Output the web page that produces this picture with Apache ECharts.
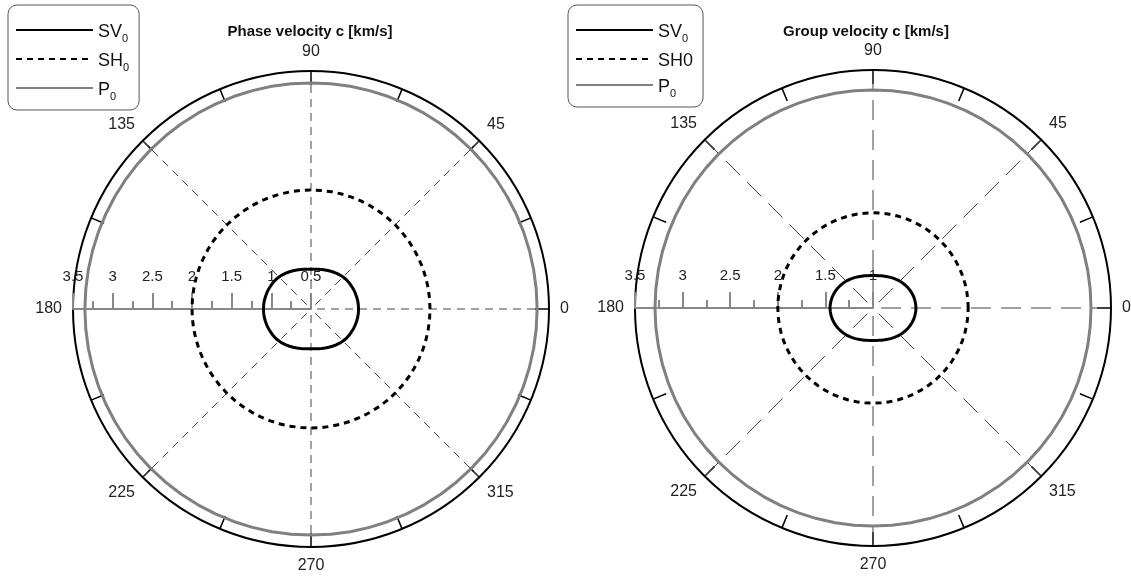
<!DOCTYPE html>
<html>
<head>
<meta charset="utf-8">
<script src="https://cdn.jsdelivr.net/npm/echarts@6/dist/echarts.min.js"></script>
<style>
  html, body { margin: 0; padding: 0; background: #fff; }
  #polarChart { width: 1131px; height: 579px; }
</style>
</head>
<body>
<div id="polarChart"></div>
<script>
// angles in degrees, 0 = right, counter-clockwise
const angles = [0, 5, 10, 15, 20, 25, 30, 35, 40, 45, 50, 55, 60, 65, 70, 75, 80, 85, 90,
  95, 100, 105, 110, 115, 120, 125, 130, 135, 140, 145, 150, 155, 160, 165, 170, 175, 180,
  185, 190, 195, 200, 205, 210, 215, 220, 225, 230, 235, 240, 245, 250, 255, 260, 265, 270,
  275, 280, 285, 290, 295, 300, 305, 310, 315, 320, 325, 330, 335, 340, 345, 350, 355, 360];

// phase velocity [km/s]
const phaseSV0 = [1.099, 1.099, 1.098, 1.095, 1.093, 1.090, 1.086, 1.083, 1.078, 1.071, 1.062, 1.052, 1.042, 1.032, 1.023, 1.016, 1.009, 1.004, 1.000,
  1.004, 1.009, 1.016, 1.023, 1.032, 1.042, 1.052, 1.062, 1.071, 1.078, 1.083, 1.086, 1.090, 1.093, 1.095, 1.098, 1.099, 1.099,
  1.099, 1.098, 1.095, 1.093, 1.090, 1.086, 1.083, 1.078, 1.071, 1.062, 1.052, 1.042, 1.032, 1.023, 1.016, 1.009, 1.004, 1.000,
  1.004, 1.009, 1.016, 1.023, 1.032, 1.042, 1.052, 1.062, 1.071, 1.078, 1.083, 1.086, 1.090, 1.093, 1.095, 1.098, 1.099, 1.099];
const phaseSH0 = [2.0, 2.0, 2.0, 2.0, 2.0, 2.0, 2.0, 2.0, 2.0, 2.0, 2.0, 2.0, 2.0, 2.0, 2.0, 2.0, 2.0, 2.0, 2.0,
  2.0, 2.0, 2.0, 2.0, 2.0, 2.0, 2.0, 2.0, 2.0, 2.0, 2.0, 2.0, 2.0, 2.0, 2.0, 2.0, 2.0, 2.0,
  2.0, 2.0, 2.0, 2.0, 2.0, 2.0, 2.0, 2.0, 2.0, 2.0, 2.0, 2.0, 2.0, 2.0, 2.0, 2.0, 2.0, 2.0,
  2.0, 2.0, 2.0, 2.0, 2.0, 2.0, 2.0, 2.0, 2.0, 2.0, 2.0, 2.0, 2.0, 2.0, 2.0, 2.0, 2.0, 2.0];
const phaseP0 = [3.35, 3.35, 3.35, 3.35, 3.35, 3.35, 3.35, 3.35, 3.35, 3.35, 3.35, 3.35, 3.35, 3.35, 3.35, 3.35, 3.35, 3.35, 3.35,
  3.35, 3.35, 3.35, 3.35, 3.35, 3.35, 3.35, 3.35, 3.35, 3.35, 3.35, 3.35, 3.35, 3.35, 3.35, 3.35, 3.35, 3.35,
  3.35, 3.35, 3.35, 3.35, 3.35, 3.35, 3.35, 3.35, 3.35, 3.35, 3.35, 3.35, 3.35, 3.35, 3.35, 3.35, 3.35, 3.35,
  3.35, 3.35, 3.35, 3.35, 3.35, 3.35, 3.35, 3.35, 3.35, 3.35, 3.35, 3.35, 3.35, 3.35, 3.35, 3.35, 3.35, 3.35];

// group velocity [km/s]
const groupSV0 = [1.452, 1.450, 1.447, 1.444, 1.438, 1.432, 1.424, 1.416, 1.407, 1.399, 1.389, 1.380, 1.371, 1.363, 1.356, 1.350, 1.345, 1.342, 1.341,
  1.342, 1.345, 1.350, 1.356, 1.363, 1.371, 1.380, 1.389, 1.399, 1.407, 1.416, 1.424, 1.432, 1.438, 1.444, 1.447, 1.450, 1.452,
  1.450, 1.447, 1.444, 1.438, 1.432, 1.424, 1.416, 1.407, 1.399, 1.389, 1.380, 1.371, 1.363, 1.356, 1.350, 1.345, 1.342, 1.341,
  1.342, 1.345, 1.350, 1.356, 1.363, 1.371, 1.380, 1.389, 1.399, 1.407, 1.416, 1.424, 1.432, 1.438, 1.444, 1.447, 1.450, 1.452];
const groupSH0 = [2.0, 2.0, 2.0, 2.0, 2.0, 2.0, 2.0, 2.0, 2.0, 2.0, 2.0, 2.0, 2.0, 2.0, 2.0, 2.0, 2.0, 2.0, 2.0,
  2.0, 2.0, 2.0, 2.0, 2.0, 2.0, 2.0, 2.0, 2.0, 2.0, 2.0, 2.0, 2.0, 2.0, 2.0, 2.0, 2.0, 2.0,
  2.0, 2.0, 2.0, 2.0, 2.0, 2.0, 2.0, 2.0, 2.0, 2.0, 2.0, 2.0, 2.0, 2.0, 2.0, 2.0, 2.0, 2.0,
  2.0, 2.0, 2.0, 2.0, 2.0, 2.0, 2.0, 2.0, 2.0, 2.0, 2.0, 2.0, 2.0, 2.0, 2.0, 2.0, 2.0, 2.0];
const groupP0 = [3.29, 3.29, 3.29, 3.29, 3.29, 3.29, 3.29, 3.29, 3.29, 3.29, 3.29, 3.29, 3.29, 3.29, 3.29, 3.29, 3.29, 3.29, 3.29,
  3.29, 3.29, 3.29, 3.29, 3.29, 3.29, 3.29, 3.29, 3.29, 3.29, 3.29, 3.29, 3.29, 3.29, 3.29, 3.29, 3.29, 3.29,
  3.29, 3.29, 3.29, 3.29, 3.29, 3.29, 3.29, 3.29, 3.29, 3.29, 3.29, 3.29, 3.29, 3.29, 3.29, 3.29, 3.29, 3.29,
  3.29, 3.29, 3.29, 3.29, 3.29, 3.29, 3.29, 3.29, 3.29, 3.29, 3.29, 3.29, 3.29, 3.29, 3.29, 3.29, 3.29, 3.29];

const titles = ["Phase velocity c [km/s]", "Group velocity c [km/s]"];
const FONT = "Liberation Sans, Arial, sans-serif";

function toPolar(r) {
  return r.map((v, i) => [v, angles[i]]);
}

function angleAxis(idx, dash) {
  return {
    polarIndex: idx,
    type: "value",
    min: 180,
    max: 540,
    interval: 45,
    startAngle: 180,
    clockwise: false,
    axisLine: { lineStyle: { color: "#000", width: 2 } },
    axisTick: { inside: true, length: 14, lineStyle: { color: "#000", width: 1.5 } },
    minorTick: { show: true, splitNumber: 2, length: 14, lineStyle: { color: "#000", width: 1.5 } },
    axisLabel: {
      margin: 11,
      color: "#222",
      fontSize: 16,
      fontFamily: FONT,
      formatter: v => String(v % 360)
    },
    splitLine: { show: true, lineStyle: { color: "#444", width: 1, type: dash } }
  };
}

function radiusAxis(idx, min) {
  return {
    polarIndex: idx,
    type: "value",
    min: min,
    max: 3.5,
    interval: 0.5,
    z: 5,
    axisLine: { lineStyle: { color: "#888", width: 2 } },
    // negative lengths flip the ticks to the upper side
    axisTick: { length: -16, lineStyle: { color: "#888", width: 2 } },
    minorTick: { show: true, splitNumber: 2, length: -8, lineStyle: { color: "#888", width: 2 } },
    // negative margin puts the labels above the axis
    axisLabel: { margin: -40, color: "#222", fontSize: 15, fontFamily: FONT, showMinLabel: true, showMaxLabel: true },
    splitLine: { show: false }
  };
}

function legend(left, bigSub) {
  return {
    left: left,
    top: 5,
    orient: "vertical",
    data: ["SV0", "SH0", "P0"],
    itemWidth: 77,
    itemHeight: 14,
    itemGap: 8,
    padding: [18, 10, 8, 7],
    borderColor: "#555",
    borderWidth: 1,
    borderRadius: 9,
    selectedMode: false,
    itemStyle: { opacity: 0 },
    formatter: name => {
      let base = name.slice(0, -1);
      if (bigSub && name === "SH0") return "{n|SH0}";
      return "{n|" + base + "}{s|0}";
    },
    textStyle: {
      fontFamily: FONT,
      color: "#111",
      rich: {
        n: { fontSize: 18, fontFamily: FONT, color: "#111", lineHeight: 22, verticalAlign: "bottom" },
        s: { fontSize: 11, fontFamily: FONT, color: "#111", lineHeight: 14, verticalAlign: "bottom", padding: [0, 0, -3, 0] }
      }
    }
  };
}

function lineSeries(name, idx, data, style) {
  return {
    name: name,
    type: "line",
    coordinateSystem: "polar",
    polarIndex: idx,
    showSymbol: false,
    symbol: "none",
    smooth: false,
    silent: true,
    z: 10,
    itemStyle: { color: style.color },
    lineStyle: style,
    data: toPolar(data)
  };
}

const sv = { color: "#000", width: 3 };
const sh = { color: "#000", width: 3, type: [6, 5] };
const p = { color: "#808080", width: 3 };

let chart = echarts.init(document.getElementById("polarChart"));
chart.setOption({
  backgroundColor: "#fff",
  animation: false,
  graphic: [
    {
      type: "text", x: 310, y: 32,
      style: { text: titles[0], textAlign: "center", textVerticalAlign: "middle", align: "center", verticalAlign: "middle",
        font: "bold 15px " + FONT, fill: "#111" }
    },
    {
      type: "text", x: 866, y: 32,
      style: { text: titles[1], textAlign: "center", textVerticalAlign: "middle", align: "center", verticalAlign: "middle",
        font: "bold 15px " + FONT, fill: "#111" }
    }
  ],
  legend: [legend(8, false), legend(568, true)],
  polar: [
    { center: [311, 309], radius: 238 },
    { center: [873, 308], radius: 238 }
  ],
  angleAxis: [angleAxis(0, [8, 6]), angleAxis(1, [20, 10])],
  radiusAxis: [radiusAxis(0, 0.5), radiusAxis(1, 1)],
  series: [
    lineSeries("SV0", 0, phaseSV0, sv),
    lineSeries("SH0", 0, phaseSH0, sh),
    lineSeries("P0", 0, phaseP0, p),
    lineSeries("SV0", 1, groupSV0, sv),
    lineSeries("SH0", 1, groupSH0, sh),
    lineSeries("P0", 1, groupP0, p)
  ]
});
window.addEventListener("resize", () => {
  chart.resize();
});
</script>
</body>
</html>
